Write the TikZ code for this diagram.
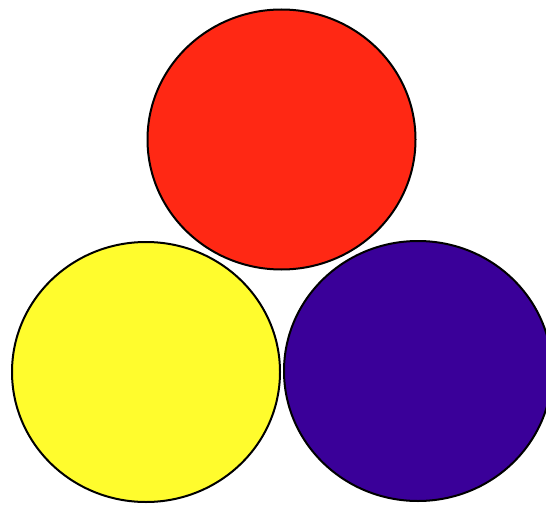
\documentclass[tikz,border=0pt]{standalone}
\usepackage{tikz}
\usetikzlibrary{shapes.geometric}
\definecolor{discRed}{RGB}{255, 40, 20}
\definecolor{discYellow}{RGB}{255, 252, 45}
\definecolor{discBlue}{RGB}{58, 0, 153}

\begin{document}
\begin{tikzpicture}[
  x=1pt, y=-1pt,
  disc/.style={draw=black, ellipse, line width=2pt, inner sep=0pt,
               minimum width=268pt, minimum height=260pt}
]
  \useasboundingbox (0,0) rectangle (546,505);
  \clip (0,0) rectangle (546,505);

  % ── bottom row ──
  \node[disc, fill=discYellow] (yellow) at (146, 372) {};
  \node[disc, fill=discBlue] (blue) at (418, 371) {};

  % ── top ──
  \node[disc, fill=discRed] (red) at (281.5, 139.5) {};
\end{tikzpicture}
\end{document}
